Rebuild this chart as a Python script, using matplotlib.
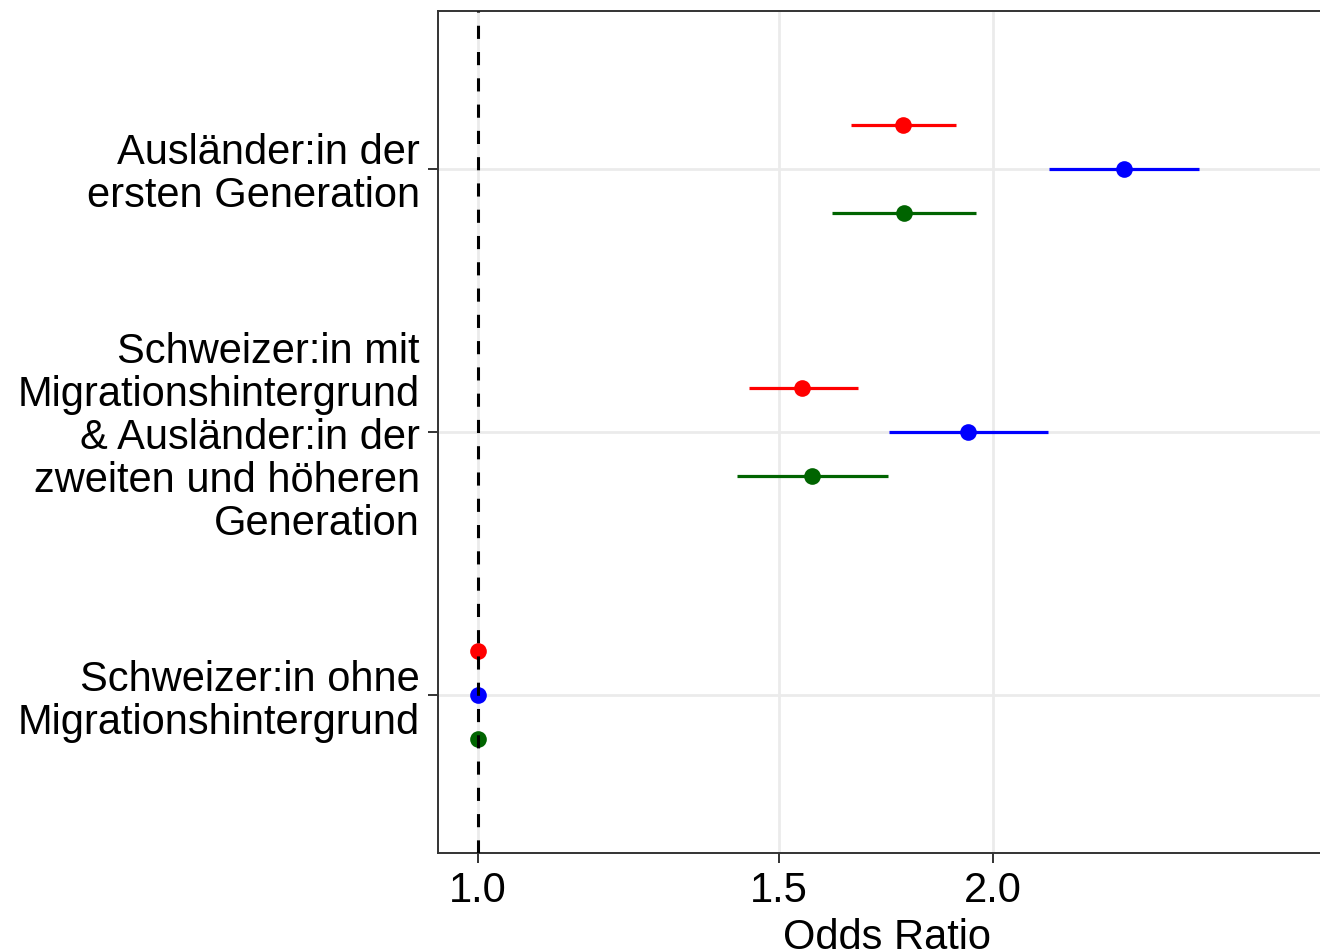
import numpy as np
import matplotlib
matplotlib.use('agg')
import matplotlib.pyplot as plt
from matplotlib.ticker import FixedLocator, NullLocator

plt.rcParams['font.family'] = ['Liberation Sans', 'DejaVu Sans']

# categories (bottom to top)
categories = [
    "Schweizer:in ohne\nMigrationshintergrund",
    "Schweizer:in mit\nMigrationshintergrund\n& Ausländer:in der\nzweiten und höheren\nGeneration",
    "Ausländer:in der\nersten Generation",
]

# odds ratios + confidence intervals per model
or_red = [1.0, 1.547, 1.772]
lo_red = [1.0, 1.440, 1.652]
hi_red = [1.0, 1.668, 1.903]

or_blue = [1.0, 1.934, 2.386]
lo_blue = [1.0, 1.739, 2.157]
hi_blue = [1.0, 2.154, 2.639]

or_green = [1.0, 1.568, 1.774]
lo_green = [1.0, 1.417, 1.610]
hi_green = [1.0, 1.736, 1.955]

xticks = [1.0, 1.5, 2.0]
xticklabels = ["1.0", "1.5", "2.0"]

series = [
    (or_red, lo_red, hi_red, 'red', 1/6),
    (or_blue, lo_blue, hi_blue, 'blue', 0.0),
    (or_green, lo_green, hi_green, 'darkgreen', -1/6),
]

W, H = 1320, 949
fig = plt.figure(figsize=(W/100, H/100), dpi=100)
ax = fig.add_axes([438/W, 1 - 853/H, (1335 - 438)/W, (853 - 11)/H])

ypos = np.arange(1, len(categories) + 1)

for est, lo, hi, col, off in series:
    y = ypos + off
    ax.hlines(y, lo, hi, color=col, linewidth=2.3, zorder=3)
    ax.plot(est, y, 'o', color=col, markersize=12, markeredgewidth=0, zorder=4)

# reference line
ax.axvline(1.0, color='black', linewidth=2.2, dashes=(4.3, 4.3), zorder=5)

ax.set_xscale('log')
ax.set_xlim(0.9476, 3.169)
ax.set_ylim(0.4, 3.6)
ax.xaxis.set_major_locator(FixedLocator(xticks))
ax.xaxis.set_minor_locator(NullLocator())
ax.set_xticklabels(xticklabels)
ax.set_yticks(ypos)
ax.set_yticklabels(categories, linespacing=1.1, ha='right')

ax.grid(True, color='#EBEBEB', linewidth=2.0, zorder=0)
ax.set_axisbelow(True)

for sp in ax.spines.values():
    sp.set_color('#333333')
    sp.set_linewidth(1.4)

ax.tick_params(axis='both', colors='#333333', width=1.4, length=7,
               labelsize=30, labelcolor='black', pad=6)
ax.set_xlabel("Odds Ratio", fontsize=30, labelpad=5)

fig.savefig('out.png', dpi=100)
